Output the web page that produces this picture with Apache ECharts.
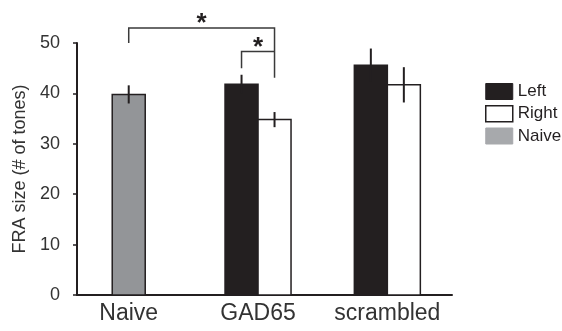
<!DOCTYPE html>
<html>
<head>
<meta charset="utf-8">
<script src="https://cdn.jsdelivr.net/npm/echarts@6/dist/echarts.min.js"></script>
<style>
  html, body { margin: 0; padding: 0; background: #fff; }
  #chart { width: 562px; height: 331px; }
</style>
</head>
<body>
<div id="chart"></div>
<script>
// group labels and mean / sem per series (null = no bar in that group)
const categories = ['Naive', 'GAD65', 'scrambled']
const leftMean = [null, 41.8, 45.6]
const leftErr = [null, 1.9, 3.3]
const rightMean = [null, 34.8, 41.7]
const rightErr = [null, 1.5, 3.5]
const naiveMean = [39.8, null, null]
const naiveErr = [1.8, null, null]

// significance brackets: [group, series] -> [group, series]
const bracketFrom = [['Naive', 'Naive'], ['GAD65', 'Left']]
const bracketTo = [['GAD65', 'Right'], ['GAD65', 'Right']]
const bracketTop = [53, 48.3]
const bracketFromEnd = [50, 45]
const bracketToEnd = [43.1, 48.3]
const bracketMark = ['*', '*']

const BAR_W = 33
const slot = { Left: -1, Right: 1, Naive: 0 }
const ink = '#231f20'
const textColor = '#333333'

const chart = echarts.init(document.getElementById('chart'))

function toData(mean, err) {
  return mean.map((m, i) => (m == null ? null : [i, m, err[i]])).filter(Boolean)
}

function barSeries(name, mean, err, style) {
  return {
    type: 'custom',
    name: name,
    data: toData(mean, err),
    encode: { x: 0, y: 1 },
    itemStyle: style,
    renderItem: function (params, api) {
      const i = api.value(0)
      const m = api.value(1)
      const e = api.value(2)
      const base = api.coord([i, 0])
      const top = api.coord([i, m])
      const cx = base[0] + (slot[name] * BAR_W) / 2
      const hi = api.coord([i, m + e])[1]
      const lo = api.coord([i, m - e])[1]
      return {
        type: 'group',
        children: [
          {
            type: 'rect',
            shape: { x: cx - BAR_W / 2, y: top[1], width: BAR_W, height: base[1] - top[1] },
            style: { fill: style.color, stroke: style.borderColor, lineWidth: 1.5 },
          },
          {
            type: 'line',
            shape: { x1: cx, y1: hi, x2: cx, y2: lo },
            style: { stroke: ink, lineWidth: 2 },
          },
        ],
      }
    },
  }
}

const bracketSeries = {
  type: 'custom',
  name: 'brackets',
  data: bracketTop.map((v, k) => [categories.indexOf(bracketFrom[k][0]), v]),
  encode: { x: 0, y: 1 },
  clip: false,
  silent: true,
  renderItem: function (params, api) {
    const k = params.dataIndex
    const px = (ref) => api.coord([categories.indexOf(ref[0]), 0])[0] + (slot[ref[1]] * BAR_W) / 2
    const x1 = px(bracketFrom[k])
    const x2 = px(bracketTo[k])
    const yTop = api.coord([0, bracketTop[k]])[1]
    const y1 = api.coord([0, bracketFromEnd[k]])[1]
    const y2 = api.coord([0, bracketToEnd[k]])[1]
    return {
      type: 'group',
      children: [
        {
          type: 'polyline',
          shape: { points: [[x1, y1], [x1, yTop], [x2, yTop], [x2, y2]] },
          style: { stroke: '#3a3a3a', lineWidth: 1.5, fill: null },
        },
        {
          type: 'text',
          x: (x1 + x2) / 2,
          y: yTop - 4,
          style: {
            text: bracketMark[k],
            fontSize: 26,
            fontWeight: 'bold',
            fontFamily: 'Liberation Sans, Arial, sans-serif',
            fill: ink,
            align: 'center',
            verticalAlign: 'middle',
          },
        },
      ],
    }
  },
}

const option = {
  animation: false,
  textStyle: { fontFamily: 'Liberation Sans, Arial, sans-serif' },
  grid: { left: 77, right: 110, top: 43, bottom: 36 },
  legend: {
    orient: 'vertical',
    left: 480,
    top: 78,
    itemWidth: 27,
    itemHeight: 16,
    itemGap: 5,
    textStyle: { fontSize: 17, color: ink },
    data: [
      { name: 'Left', icon: 'rect', itemStyle: { color: ink, borderColor: ink, borderWidth: 1 } },
      { name: 'Right', icon: 'rect', itemStyle: { color: '#fff', borderColor: ink, borderWidth: 1.5 } },
      { name: 'Naive', icon: 'rect', itemStyle: { color: '#a7a9ac', borderColor: '#a7a9ac', borderWidth: 1 } },
    ],
  },
  xAxis: {
    type: 'value',
    min: -0.4,
    max: 2.5,
    splitLine: { show: false },
    axisTick: { show: false },
    axisLine: { show: true, onZero: false, lineStyle: { color: ink, width: 2 } },
    axisLabel: {
      customValues: [0, 1, 2],
      formatter: (v) => categories[Math.round(v)],
      fontSize: 23,
      color: textColor,
      margin: 7,
    },
  },
  yAxis: {
    type: 'value',
    min: 0,
    max: 50,
    interval: 10,
    name: 'FRA size (# of tones)',
    nameLocation: 'middle',
    nameGap: 47,
    nameTextStyle: { fontSize: 18, color: textColor },
    splitLine: { show: false },
    axisLine: { show: true, onZero: false, lineStyle: { color: ink, width: 2 } },
    axisTick: { show: true, length: 4, lineStyle: { color: ink, width: 1.5 } },
    axisLabel: { fontSize: 18, color: textColor, margin: 17 },
  },
  series: [
    barSeries('Left', leftMean, leftErr, { color: ink, borderColor: ink }),
    barSeries('Right', rightMean, rightErr, { color: '#fff', borderColor: ink }),
    barSeries('Naive', naiveMean, naiveErr, { color: '#939598', borderColor: ink }),
    bracketSeries,
  ],
}

option && chart.setOption(option)
</script>
</body>
</html>
